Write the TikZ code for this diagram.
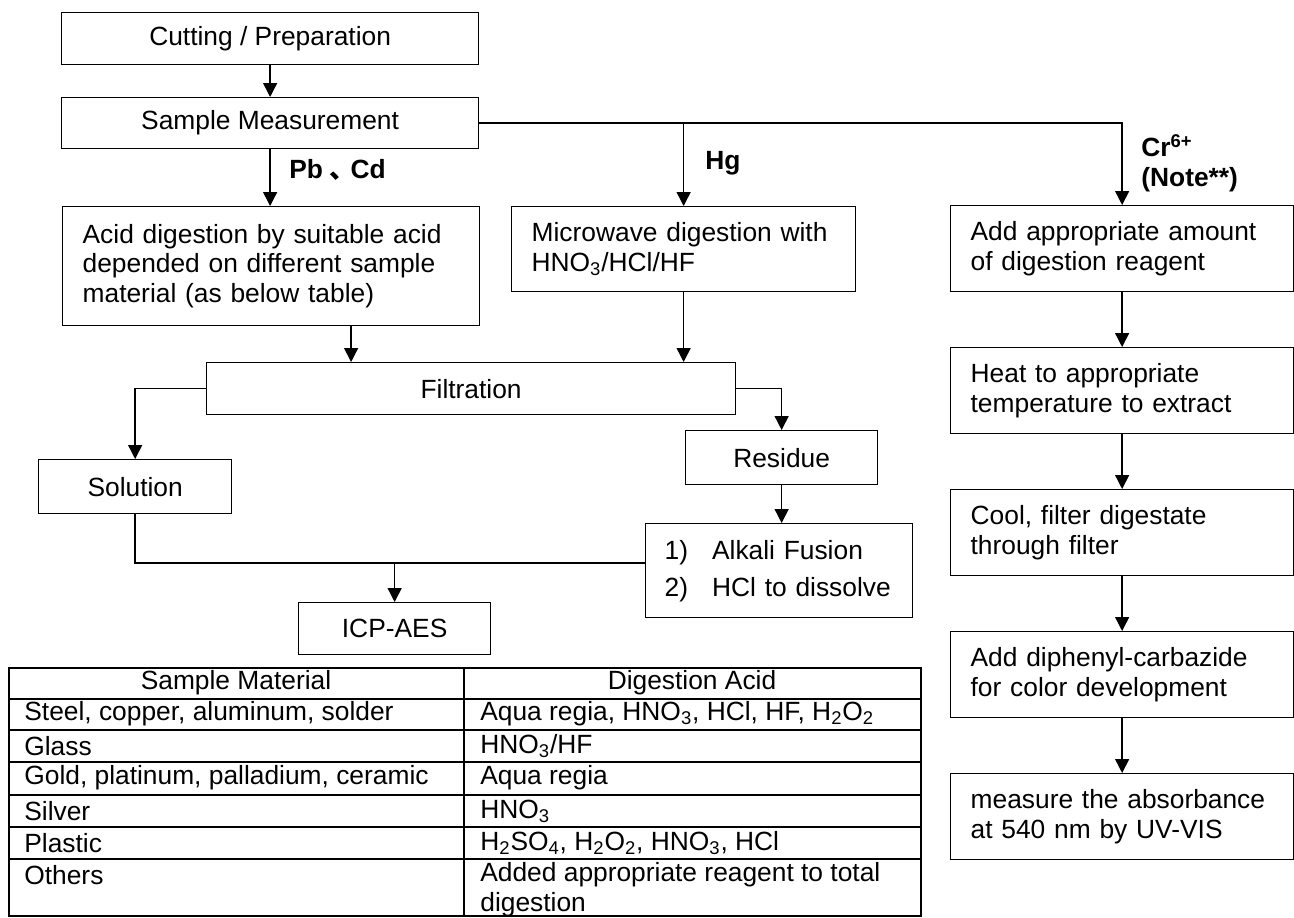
\documentclass[tikz,border=0pt]{standalone}
\usepackage{fontspec}
\setmainfont{Liberation Sans}
\newfontfamily\cjkfont{Noto Sans CJK SC}
\usepackage{tikz}
\usetikzlibrary{arrows.meta,positioning}

\newcommand{\dsize}{\fontsize{15pt}{17pt}\selectfont}

\begin{document}
\begin{tikzpicture}[x=0.02cm, y=-0.02cm, font=\dsize]
    \tikzstyle{stepbox} = [rectangle, draw, line width=0.75pt, anchor=north west, inner sep=0pt, text centered]
    \tikzstyle{leftbox} = [rectangle, draw, line width=0.75pt, anchor=north west, inner xsep=0.4cm, inner ysep=0pt, align=left]
    \tikzstyle{lbl} = [anchor=west, inner sep=0pt, font=\dsize\bfseries]
    \tikzstyle{link} = [line width=0.8pt]
    \tikzstyle{arrow} = [link, -{Triangle[length=0.28cm, width=0.28cm]}]
    \tikzstyle{tbl} = [line width=1.1pt]
    \tikzstyle{cell} = [anchor=west, inner sep=0pt]

    \useasboundingbox (0,0) rectangle (1294,917);

    % Preparation
    \node [stepbox, minimum width=8.34cm, minimum height=1.04cm] (cut) at (61,12) {Cutting / Preparation};
    \node [stepbox, minimum width=8.34cm, minimum height=1.02cm] (sm) at (61,97) {Sample Measurement};

    % Digestion
    \node [leftbox, text width=7.54cm, minimum height=2.38cm] (acid) at (62,206) {Acid digestion by suitable acid\\depended on different sample\\material (as below table)};
    \node [leftbox, text width=6.08cm, minimum height=1.70cm] (micro) at (511,206) {Microwave digestion with\\HNO\textsubscript{3}/HCl/HF};

    % Filtration and analysis
    \node [stepbox, minimum width=10.58cm, minimum height=1.04cm] (filt) at (206,362) {Filtration};
    \node [stepbox, minimum width=3.86cm, minimum height=1.08cm] (sol) at (38,459) {Solution};
    \node [stepbox, minimum width=3.84cm, minimum height=1.08cm] (res) at (685,430) {Residue};
    \node [leftbox, inner xsep=0.38cm, text width=4.58cm, minimum height=1.88cm] (alk) at (645,523) {\renewcommand{\arraystretch}{1.22}\begin{tabular}{@{}l@{\hspace{0.48cm}}l@{}}1) & Alkali Fusion\\ 2) & HCl to dissolve\end{tabular}};
    \node [stepbox, minimum width=3.84cm, minimum height=1.04cm] (icp) at (298,602) {ICP-AES};

    % Cr(VI) column
    \node [leftbox, text width=6.06cm, minimum height=1.72cm] (add) at (950,205) {Add appropriate amount\\of digestion reagent};
    \node [leftbox, text width=6.06cm, minimum height=1.72cm] (heat) at (950,347) {Heat to appropriate\\temperature to extract};
    \node [leftbox, text width=6.06cm, minimum height=1.72cm] (cool) at (950,489) {Cool, filter digestate\\through filter};
    \node [leftbox, text width=6.06cm, minimum height=1.72cm] (diph) at (950,631) {Add diphenyl-carbazide\\for color development};
    \node [leftbox, text width=6.06cm, minimum height=1.72cm] (meas) at (950,773) {measure the absorbance\\at 540 nm by UV-VIS};

    % Branch labels
    \node [lbl] (pbcd) at (289,170) {Pb\hspace{0.25em}{\cjkfont 、}\hspace{-0.2em}Cd};
    \node [lbl] (hg) at (705,163) {Hg};
    \node [lbl, align=left] (cr) at (1141,163) {Cr\textsuperscript{6+}\\(Note**)};

    % Connections
    \coordinate (hgsplit) at (micro.north |- sm.east);
    \draw [arrow] (cut) -- (sm);
    \draw [arrow] (sm.east) -| (add.north);
    \draw [arrow] (hgsplit) -- (micro.north);
    \draw [arrow] (sm.south) -- (sm.south |- acid.north);
    \draw [arrow] ([xshift=1.6cm]acid.south) -- ([xshift=1.6cm]acid.south |- filt.north);
    \draw [arrow] (micro.south) -- (micro.south |- filt.north);
    \draw [arrow] (filt.west) -| (sol.north);
    \draw [arrow] (filt.east) -| (res.north);
    \draw [arrow] (res.south) -- (res.south |- alk.north);
    \coordinate (merge) at ([yshift=0.78cm]icp.north);
    \draw [link] (sol.south) |- (merge) -- (merge -| alk.west);
    \draw [arrow] (merge) -- (icp.north);
    \foreach \a/\b in {add/heat, heat/cool, cool/diph, diph/meas}
        \draw [arrow] (\a) -- (\b);

    % Acid table
    \draw [tbl] (9,668) rectangle (921,916);
    \foreach \y in {699,730,762,795,827,859}
        \draw [tbl] (9,\y) -- (921,\y);
    \draw [tbl] (464,668) -- (464,916);
    \node [inner sep=0pt] (hmat) at (236,683) {Sample Material};
    \node [inner sep=0pt] (hacid) at (692,683) {Digestion Acid};
    \node [cell] (m1) at (24,714) {Steel, copper, aluminum, solder};
    \node [cell] (a1) at (480,714) {Aqua regia, HNO\textsubscript{3}, HCl, HF, H\textsubscript{2}O\textsubscript{2}};
    \node [cell] (m2) at (24,746) {Glass};
    \node [cell] (a2) at (480,746) {HNO\textsubscript{3}/HF};
    \node [cell] (m3) at (24,778) {Gold, platinum, palladium, ceramic};
    \node [cell] (a3) at (480,778) {Aqua regia};
    \node [cell] (m4) at (24,811) {Silver};
    \node [cell] (a4) at (480,811) {HNO\textsubscript{3}};
    \node [cell] (m5) at (24,843) {Plastic};
    \node [cell] (a5) at (480,843) {H\textsubscript{2}SO\textsubscript{4}, H\textsubscript{2}O\textsubscript{2}, HNO\textsubscript{3}, HCl};
    \node [cell] (m6) at (24,875) {Others};
    \node [cell, anchor=north west, align=left] (a6) at (480,862) {Added appropriate reagent to total\\digestion};
\end{tikzpicture}
\end{document}
